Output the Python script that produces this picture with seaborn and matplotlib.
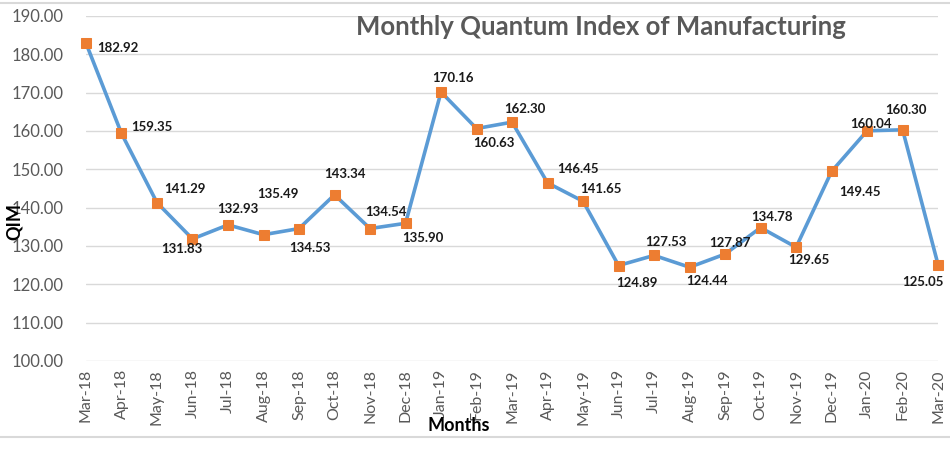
import matplotlib
matplotlib.use('Agg')
import matplotlib.pyplot as plt
import seaborn as sns
import pandas as pd
from matplotlib.lines import Line2D

# datos del índice mensual
meses = ['Mar-18', 'Apr-18', 'May-18', 'Jun-18', 'Jul-18', 'Aug-18', 'Sep-18', 'Oct-18',
         'Nov-18', 'Dec-18', 'Jan-19', 'Feb-19', 'Mar-19', 'Apr-19', 'May-19', 'Jun-19',
         'Jul-19', 'Aug-19', 'Sep-19', 'Oct-19', 'Nov-19', 'Dec-19', 'Jan-20', 'Feb-20', 'Mar-20']
qim = [182.92, 159.35, 141.29, 131.83, 135.49, 132.93, 134.53, 143.34,
       134.54, 135.90, 170.16, 160.63, 162.30, 146.45, 141.65, 124.89,
       127.53, 124.44, 127.87, 134.78, 129.65, 149.45, 160.04, 160.30, 125.05]

# desplazamiento de cada etiqueta (pixeles, y hacia arriba)
desplazamientos = [(32, -5), (30, 6), (28, 14), (-11, -10), (50, 31), (-26, 26), (11, -19), (10, 21),
                   (16, 17), (17, -15), (12, 14), (17, -14), (13, 13), (30, 14), (18, 12), (18, -17),
                   (12, 13), (17, -14), (5, 11), (11, 11), (13, -13), (28, -21), (4, 7), (3, 20), (-15, -17)]

df = pd.DataFrame({'pos': range(len(meses)), 'mes': meses, 'qim': qim})

sns.set_theme(style="whitegrid")
plt.rcParams['font.family'] = ['Lato', 'DejaVu Sans']

fig = plt.figure(figsize=(9.5, 4.5), dpi=100)
ax = fig.add_axes([0.0905, 0.198, 0.897, 0.7665])

sns.lineplot(data=df, x='pos', y='qim', ax=ax, color='#5B9BD5', linewidth=2.6,
             marker='s', markersize=6.5, markerfacecolor='#ED7D31', markeredgecolor='#ED7D31')
for ln in ax.lines:
    ln.set_clip_on(False)

for i, v in enumerate(qim):
    dx, dy = desplazamientos[i]
    ax.annotate(f"{v:.2f}", (i, v), xytext=(dx, dy), textcoords='offset pixels',
                ha='center', va='center', fontsize=9.5, fontweight='bold', color='#1a1a1a')

ax.set_xlim(0, len(meses) - 1)
ax.set_ylim(100, 190)
ax.set_yticks(range(100, 191, 10))
ax.set_yticklabels([f"{t:.2f}" for t in range(100, 191, 10)], fontsize=12, color='#595959')
ax.set_xticks(range(len(meses)))
ax.set_xticklabels(meses, rotation=90, fontsize=11.5, color='#595959')
ax.tick_params(axis='x', length=0, pad=6)
ax.tick_params(axis='y', length=0, pad=16)
ax.grid(axis='x', visible=False)
ax.grid(axis='y', color='#D9D9D9', linewidth=1)
for s in ax.spines.values():
    s.set_visible(False)
ax.set_xlabel('')
ax.set_ylabel('')

fig.text(0.633, 0.94, 'Monthly Quantum Index of Manufacturing', ha='center', va='center',
         fontsize=18.5, fontweight='bold', color='#595959')
fig.text(0.015, 0.507, 'QIM', rotation=90, ha='center', va='center',
         fontsize=13, fontweight='bold', color='black')
fig.text(0.483, 0.055, 'Months', ha='center', va='center',
         fontsize=13, fontweight='bold', color='black')

# marco gris de la figura
fig.add_artist(Line2D([0, 1], [0.993, 0.993], color='#D9D9D9', linewidth=1.5, transform=fig.transFigure))
fig.add_artist(Line2D([0, 1], [0.028, 0.028], color='#D9D9D9', linewidth=1.5, transform=fig.transFigure))

fig.savefig('out.png', dpi=100, facecolor='white')
plt.close(fig)
